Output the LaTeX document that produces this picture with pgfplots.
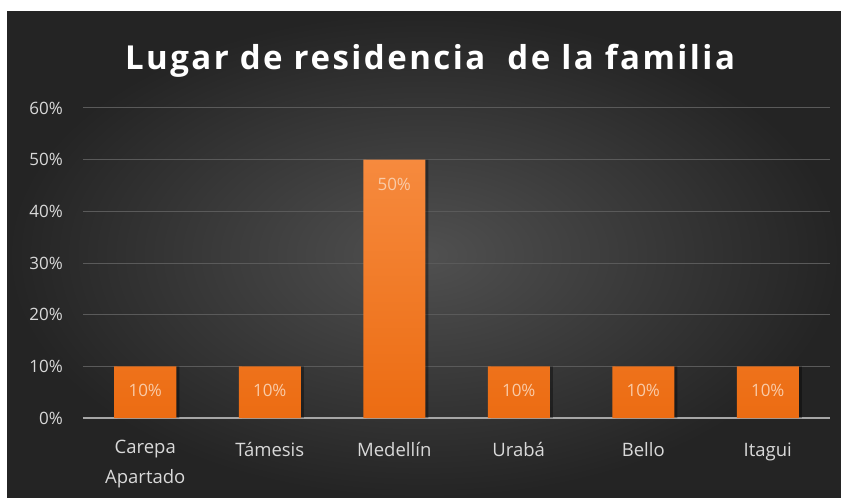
\documentclass[border=0pt]{standalone}
\usepackage{fontspec}
\setmainfont{Open Sans}
\newfontfamily\titlefont[LetterSpace=7.5]{Open Sans Bold}
\usepackage{pgfplots}
\pgfplotsset{compat=1.18}
\definecolor{bgin}{HTML}{505050}
\definecolor{bgout}{HTML}{242424}
\definecolor{bartop}{HTML}{F68A3E}
\definecolor{barbot}{HTML}{EC6C12}
\definecolor{lbl}{HTML}{F9CBA8}
\definecolor{tick}{HTML}{D9D9D9}
\definecolor{grid}{HTML}{5A5A5A}
\definecolor{base}{HTML}{A6A6A6}
\begin{document}
\begin{tikzpicture}
\fill[white] (0,0) rectangle (841pt,498pt);
\shade[inner color=bgin, outer color=bgout] (7pt,0) rectangle (841pt,486pt);
\node[text=white, anchor=base, inner sep=0pt] at (430pt,428pt) {\titlefont\fontsize{33}{36}\selectfont Lugar de residencia\ \ de la familia};
\begin{axis}[
  at={(83pt,80pt)}, anchor=south west,
  scale only axis, width=747pt, height=310pt,
  xmin=-0.5, xmax=5.5, ymin=0, ymax=60,
  ybar, bar width=62pt,
  axis line style={draw=none},
  ytick={0,10,...,60},
  yticklabel={\pgfmathprintnumber{\tick}\%},
  /pgf/number format/assume math mode=true,
  yticklabel style={anchor=east, inner sep=0pt, xshift=-20pt, font=\fontsize{17}{20}\selectfont, text=tick},
  xtick={0,1,2,3,4,5},
  xticklabels={{Carepa\\[5pt]Apartado},{Támesis},{Medellín},{Urabá},{Bello},{Itagui}},
  xticklabel style={anchor=north, inner sep=0pt, yshift=-22pt, align=center, font=\fontsize{18.5}{25}\selectfont, text=tick, execute at begin node={\rule{0pt}{16pt}}},
  major tick length=0pt,
  ymajorgrids, grid style={draw=grid, line width=1pt},
  extra y ticks={0}, extra y tick labels={},
  extra y tick style={grid style={draw=base, line width=1.5pt}},
  clip=false,
]
\addplot[draw=none, fill=black, fill opacity=0.35, bar shift=3pt, forget plot] coordinates {(0,10) (1,10) (2,50) (3,10) (4,10) (5,10)};
\addplot[draw=none, top color=bartop, bottom color=barbot, bar shift=0pt,
  nodes near coords={\pgfmathprintnumber{\pgfplotspointmeta}\%},
  nodes near coords style={anchor=center, yshift=-24.5pt, text=lbl, font=\fontsize{17}{20}\selectfont, /pgf/number format/assume math mode=true}] coordinates {(0,10) (1,10) (2,50) (3,10) (4,10) (5,10)};
\end{axis}
\end{tikzpicture}
\end{document}
